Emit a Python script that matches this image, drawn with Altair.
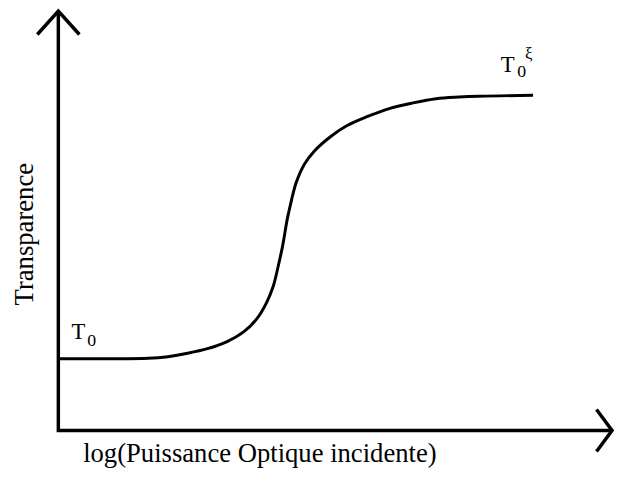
import altair as alt
import pandas as pd

# Sigmoid curve (x: log power, y: transparency)
curve_x = [0.0, 0.80, 1.622, 1.979, 2.335, 2.692, 3.048, 3.346, 3.583, 3.761, 3.881,
           3.970, 4.059, 4.130, 4.176, 4.296, 4.444, 4.622, 4.920, 5.217, 5.574, 5.989,
           6.405, 6.822, 7.237, 7.594, 8.574]
curve_y = [0.171, 0.171, 0.172, 0.176, 0.184, 0.195, 0.212, 0.235, 0.266, 0.305, 0.344,
           0.391, 0.446, 0.501, 0.529, 0.591, 0.635, 0.666, 0.701, 0.727, 0.748, 0.768,
           0.781, 0.791, 0.795, 0.797, 0.799]

# Axes with arrow heads (polylines)
axes_x = [0, 0, 10, -0.38, 0, 0.38, 9.72, 10, 9.72]
axes_y = [1, 0, 0, 0.944, 1, 0.944, 0.05, 0, -0.05]
axes_group = ["axes", "axes", "axes", "yarrow", "yarrow", "yarrow", "xarrow", "xarrow", "xarrow"]

# Texts
label_text = ["T", "0", "T", "0", "ξ"]
label_x = [0.24, 0.52, 7.99, 8.29, 8.43]
label_y = [0.219, 0.202, 0.854, 0.842, 0.885]
label_size = [23, 18, 23, 18, 17]

x_title = "log(Puissance Optique incidente)"
y_title = "Transparence"

FONT = "Liberation Serif, Times New Roman, Times, DejaVu Serif, serif"

curve_df = pd.DataFrame({"x": curve_x, "y": curve_y, "o": list(range(len(curve_x)))})
axes_df = pd.DataFrame({"x": axes_x, "y": axes_y, "g": axes_group, "o": list(range(len(axes_x)))})
label_df = pd.DataFrame({"t": label_text, "x": label_x, "y": label_y, "s": label_size})
xt_df = pd.DataFrame({"t": [x_title], "x": [3.64], "y": [-0.075]})
yt_df = pd.DataFrame({"t": [y_title], "x": [-0.463], "y": [0.468]})

xs = alt.Scale(domain=[0, 10], nice=False, zero=False)
ys = alt.Scale(domain=[0, 1], nice=False, zero=False)

def X():
    return alt.X("x:Q", scale=xs, axis=None)

def Y():
    return alt.Y("y:Q", scale=ys, axis=None)

axes = alt.Chart(axes_df).mark_line(color="black", strokeWidth=3.5, strokeCap="butt").encode(
    x=X(), y=Y(), detail="g:N", order="o:Q")

curve = alt.Chart(curve_df).mark_line(color="black", strokeWidth=3, interpolate="catmull-rom").encode(
    x=X(), y=Y(), order="o:Q")

labels = alt.Chart(label_df).mark_text(font=FONT, align="left", baseline="alphabetic", color="black").encode(
    x=X(), y=Y(), text="t:N", size=alt.Size("s:Q", scale=None, legend=None))

xt = alt.Chart(xt_df).mark_text(font=FONT, fontSize=27, align="center", baseline="alphabetic", color="black").encode(
    x=X(), y=Y(), text="t:N")

yt = alt.Chart(yt_df).mark_text(font=FONT, fontSize=27, angle=270, align="center", baseline="alphabetic", color="black").encode(
    x=X(), y=Y(), text="t:N")

chart = alt.layer(axes, curve, labels, xt, yt).properties(
    width=561, height=425,
    autosize=alt.AutoSizeParams(type="none"),
    padding={"left": 51, "top": 0, "right": 2, "bottom": 41},
).configure_view(stroke=None)

chart.save("out.html", embed_options={"renderer": "svg", "actions": False})
